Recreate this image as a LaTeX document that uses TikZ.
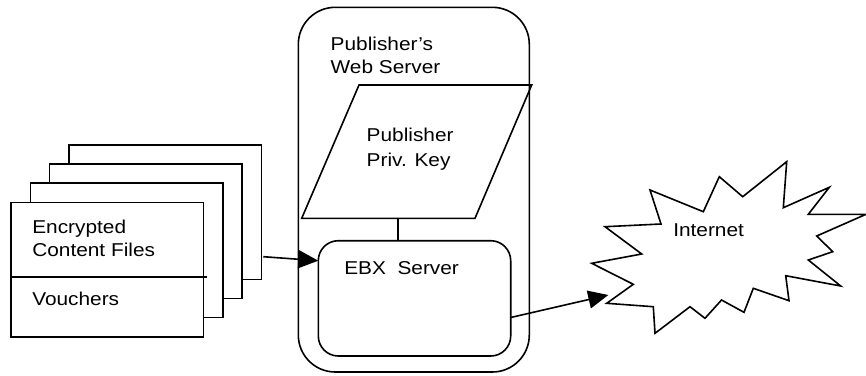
\documentclass[tikz,border=0pt]{standalone}
\usepackage{fontspec}
\setmainfont{Liberation Sans}[FakeStretch=1.12]
\usetikzlibrary{arrows.meta}

\begin{document}
\begin{tikzpicture}[x=1pt,y=-1pt,
  line width=1.6pt, line join=miter,
  every node/.style={inner sep=0pt, outer sep=0pt},
  lbl/.style={anchor=base west, font=\fontsize{18.6}{23.3}\selectfont},
  page/.style={draw, fill=white},
  flow/.style={-{Triangle[length=20pt,width=18pt]}}
]
\useasboundingbox (0,0) rectangle (866,375);

% stack of content pages, back to front
\foreach \k in {3,2,1} {
  \draw[page] ({11+19.3*\k},{202.3-19.1*\k}) rectangle ({203.5+19.3*\k},{336.7-19.1*\k});
}
\node[page, minimum width=192.5pt, minimum height=134.4pt, anchor=north west] (files) at (11,202.3) {};
\draw (files.west |- 0,276.7) -- (206.7,276.7);
\node[lbl] (enc1) at (32.3,233.3) {Encrypted};
\node[lbl] (enc2) at (32.3,256.7) {Content Files};
\node[lbl] (vch) at (32.3,305) {Vouchers};
\coordinate (stackout) at (263.3,256.7);

% publisher's web server
\node[draw, rounded corners=37pt, minimum width=231pt, minimum height=364.7pt, anchor=north west] (web) at (298.3,7.3) {};
\node[lbl] (web1) at (330.7,50) {Publisher's};
\node[lbl] (web2) at (330.7,73.3) {Web Server};

% private key (parallelogram)
\coordinate (k1) at (359,85);
\coordinate (k2) at (531.7,85);
\coordinate (k3) at (475,218.3);
\coordinate (k4) at (301.7,218.3);
\draw (k1) -- (k2) -- (k3) -- (k4) -- cycle;
\node[lbl] (key1) at (366.7,141.5) {Publisher};
\node[lbl] (key2) at (366.7,166.7) {Priv. Key};
\coordinate (keybot) at (397.7,218.3);

% EBX server
\node[draw, rounded corners=20pt, minimum width=192.4pt, minimum height=115.3pt, anchor=north west] (ebx) at (318.3,240.7) {};
\node[lbl] (ebxt) at (344.3,274.3) {EBX\ \ Server};
\draw (keybot) -- (keybot |- ebx.north);
\coordinate (ebxin) at (318.3,260.7);
\coordinate (ebxout) at (510.7,317.5);

% internet cloud
\draw (606.7,303.3) -- (633.3,284.3) -- (591.7,263.3) -- (641.7,254) -- (605,226.7)
  -- (661,224) -- (650,190) -- (703.3,211.7) -- (719.3,176.7) -- (742.7,196.7)
  -- (786.7,161.7) -- (783.3,207.7) -- (829.3,187.3) -- (808.3,214.3) -- (866,214.3)
  -- (816.7,236) -- (832.7,251.7) -- (808.3,260) -- (840.7,286) -- (785.7,275.7)
  -- (789,300.7) -- (753.3,288.3) -- (744,312.3) -- (721.5,300) -- (705,318.3)
  -- (690,306.7) -- (655,333.3) -- (653.3,306.7) -- cycle;
\node[lbl] (net) at (673.3,236) {Internet};
\coordinate (netin) at (608.3,295);

% connectors
\draw[flow] (stackout) -- (ebxin);
\draw[flow] (ebxout) -- (netin);
\end{tikzpicture}
\end{document}
